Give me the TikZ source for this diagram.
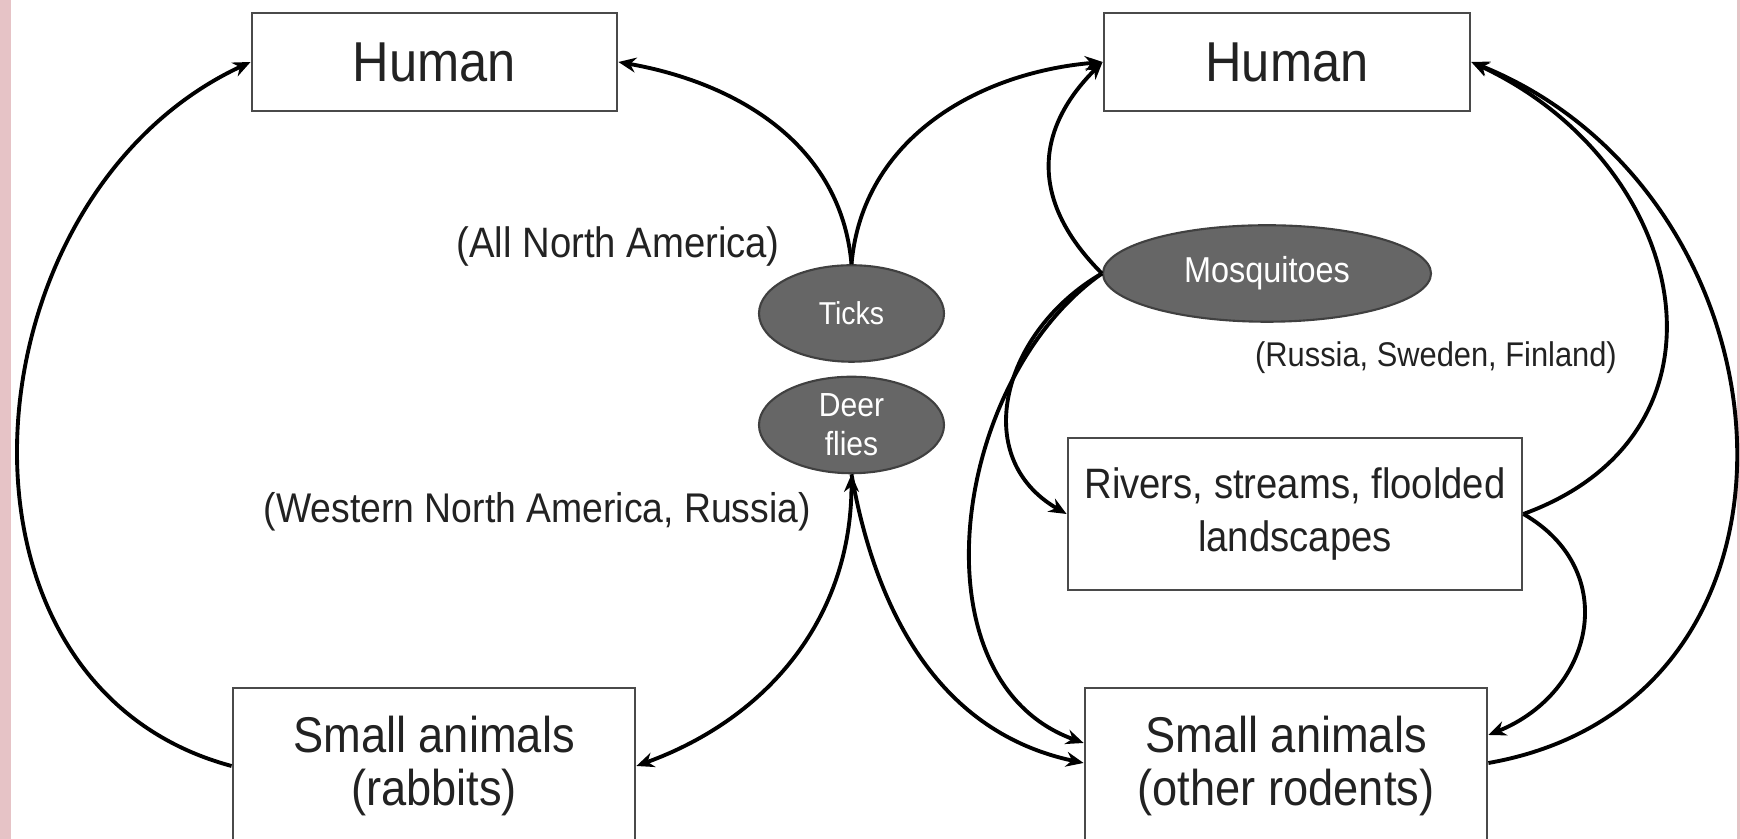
\documentclass[tikz,border=0pt]{standalone}
\usepackage{fontspec}
\setmainfont{Liberation Sans}[FakeStretch=0.9]
\usepackage{xcolor}
\usepackage{tikz}
\usetikzlibrary{arrows.meta,shapes.geometric}
\definecolor{VecPink}{HTML}{E6C3C6}
\definecolor{VecFill}{HTML}{666666}
\definecolor{VecEdge}{HTML}{404040}
\definecolor{BoxLine}{HTML}{4A4A4A}
\definecolor{InkText}{HTML}{222222}
\tikzset{
  hostbox/.style={draw=BoxLine,line width=1.6pt,fill=white,align=center,text=InkText,inner sep=0pt},
  vector/.style={ellipse,draw=VecEdge,line width=1.2pt,fill=VecFill,text=white,align=center,inner sep=0pt},
  region/.style={text=InkText},
  link/.style={line width=2.2pt,->},
}

\begin{document}
\begin{tikzpicture}[x=1cm,y=1cm,>={Stealth[length=10pt,width=8.5pt]}]
\clip (0,0) rectangle (34.80,16.78);
\fill[VecPink] (0,0) rectangle (0.22,16.78);
\fill[VecPink] (34.74,0) rectangle (34.80,16.78);
% hosts
\node[hostbox,minimum width=7.30cm,minimum height=1.96cm,font=\fontsize{32}{36}\selectfont] (humanL) at (8.69,15.54) {Human};
\node[hostbox,minimum width=7.32cm,minimum height=1.96cm,font=\fontsize{32}{36}\selectfont] (humanR) at (25.74,15.54) {Human};
\node[hostbox,minimum width=8.04cm,minimum height=3.12cm,font=\fontsize{28.6}{30}\selectfont] (smallL) at (8.68,1.46) {Small animals\\(rabbits)};
\node[hostbox,minimum width=8.04cm,minimum height=3.12cm,font=\fontsize{28.6}{30}\selectfont] (smallR) at (25.72,1.46) {Small animals\\(other rodents)};
\node[hostbox,minimum width=9.08cm,minimum height=3.04cm,font=\fontsize{24.2}{30}\selectfont] (rivers) at (25.90,6.50) {Rivers, streams, floolded\\landscapes};
% vectors
\node[vector,minimum width=3.70cm,minimum height=1.93cm,font=\fontsize{18}{22}\selectfont] (ticks) at (17.03,10.51) {Ticks};
\node[vector,minimum width=3.70cm,minimum height=1.93cm,font=\fontsize{19}{22}\selectfont] (deer) at (17.03,8.28) {Deer\\flies};
\node[vector,minimum width=6.56cm,minimum height=1.93cm,font=\fontsize{20.5}{24}\selectfont] (mosq) at (25.34,11.31) {Mosquitoes};
% regions
\node[region,anchor=east,font=\fontsize{24.2}{28}\selectfont] (allNA) at (15.72,11.84) {(All North America)};
\node[region,anchor=east,font=\fontsize{23.6}{28}\selectfont] (westNA) at (16.34,6.55) {(Western North America, Russia)};
\node[region,font=\fontsize{19.5}{24}\selectfont] (nordic) at (28.72,9.62) {(Russia, Sweden, Finland)};
% links
\draw[link] (smallL.west) to[out=165,in=205,looseness=1.15] (humanL.west);
\draw[link] (ticks.north) to[out=95,in=-10] (humanL.east);
\draw[link] (ticks.north) to[out=85,in=185] (humanR.west);
\draw[link,<->] (smallL.east) to[out=20,in=270] (deer.south);
\draw[link] (deer.south) to[out=280,in=168] ([yshift=0.06cm]smallR.west);
\draw[link] (mosq.west) to[out=135,in=225,looseness=1.2] (humanR.west);
\draw[link] (mosq.west) to[out=210,in=150,looseness=1.2] (rivers.west);
\draw[link] (mosq.west) to[out=215,in=160] ([yshift=0.46cm]smallR.west);
\draw[link] (rivers.east) to[out=20,in=-25,looseness=1.35] (humanR.east);
\draw[link] ([yshift=0.06cm]smallR.east) to[out=10,in=-22,looseness=1.3] (humanR.east);
\draw[link] (rivers.east) to[out=-30,in=22,looseness=1.3] ([yshift=0.62cm]smallR.east);
\end{tikzpicture}
\end{document}
